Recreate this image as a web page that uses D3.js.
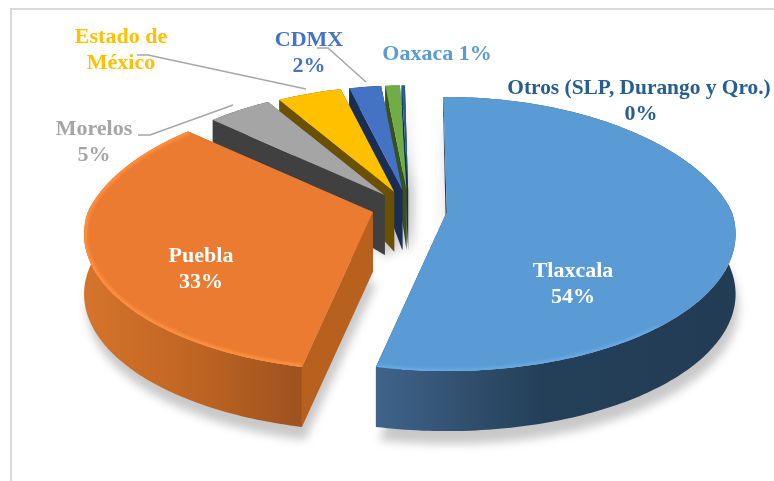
<!DOCTYPE html>
<html><head><meta charset="utf-8">
<script src="https://cdn.jsdelivr.net/npm/d3@7/dist/d3.min.js"></script>
<style>html,body{margin:0;padding:0;background:#fff}svg{display:block}text{font-family:"Liberation Serif",serif;font-weight:700;text-anchor:middle}</style>
</head><body><svg id="c" width="774" height="481"></svg>
<script>
const names=["Tlaxcala","Puebla","Morelos","Estado de México","CDMX","Oaxaca","Otros (SLP, Durango y Qro.)"];
const values=[53.6,33.3,4.6,4.75,2.4,1.1,0.25];
const topColors=["#5b9bd5","#ea7b31","#a5a5a5","#ffc000","#4472c4","#70ad47","#255e91"];
const wallColors=["#243f58","#b8611f","#404040","#6b5000","#1a2d52","#35521f","#123050"];

const W=774,H=481,svg=d3.select("#c");
const layout={cx:409,cy:212,ex:38,ey:22,R:285,Ry:133.5,k:.161,kBack:.22,shrink:.09,dMax:60,dBack:40};
const defs=svg.append("defs");
const blur=(id,s)=>defs.append("filter").attr("id",id).attr("x","-20%").attr("y","-20%").attr("width","140%").attr("height","140%").append("feGaussianBlur").attr("stdDeviation",s);
blur("sh",5);blur("hl",1.6);
const grad=(id,x1,x2,stops)=>{const g=defs.append("linearGradient").attr("id",id).attr("gradientUnits","userSpaceOnUse").attr("x1",x1).attr("x2",x2).attr("y1",0).attr("y2",0);
 stops.forEach(s=>g.append("stop").attr("offset",s[0]).attr("stop-color",s[1]));};
grad("gBlue",378,742,[[0,"#3f6389"],[.45,"#243f58"],[1,"#223c54"]]);
grad("gOrange",82,299,[[0,"#d6742c"],[.55,"#bd6422"],[1,"#9f521f"]]);

svg.append("rect").attr("x",11).attr("y",9).attr("width",W).attr("height",H).attr("fill","none").attr("stroke","#d9d9d9").attr("stroke-width",2);

const arcs=d3.pie().sort(null).startAngle(-.015).endAngle(2*Math.PI-.015)(values);
const line=d3.line();
const step=Math.PI/180;
function proj(a,t){
  const u=Math.sin(t),v=-Math.cos(t),py=1/(1-layout.k*v),px=1/(1-(v<0?layout.kBack:layout.k)*v);
  return [a.ax+layout.R*a.s*u*px,a.ay+layout.Ry*a.s*v*py];
}
function drop(a,t){const v=-Math.cos(t),q=proj(a,t);return [q[0],q[1]+layout.dMax+layout.dBack*Math.min(v,0)];}
arcs.forEach((a,i)=>{
  const mid=(a.startAngle+a.endAngle)/2;
  a.ax=layout.cx+Math.sin(mid)*layout.ex;
  a.ay=layout.cy+Math.min(0,-Math.cos(mid))*layout.ey;
  a.s=1-layout.shrink*Math.max(0,Math.cos(mid));
  a.i=i;
  const n=Math.max(2,Math.ceil((a.endAngle-a.startAngle)/step));
  a.ang=d3.range(n+1).map(j=>a.startAngle+(a.endAngle-a.startAngle)*j/n);
  a.rim=a.ang.map(t=>proj(a,t));
  a.low=a.ang.map(t=>drop(a,t));
  a.apex=[a.ax,a.ay];a.apexLow=[a.ax,a.ay+layout.dMax];
});

const gShadow=svg.append("g").attr("filter","url(#sh)").attr("opacity",.4);
arcs.forEach(a=>{
  if(a.i>1)return;
  gShadow.append("path").attr("fill","#777").attr("transform","translate(3,13)")
   .attr("d",line([a.apexLow,...a.low])+"Z");
  gShadow.append("path").attr("fill","#777").attr("transform","translate(-5,4)")
   .attr("d",line([a.apex,a.rim[0],a.low[0],a.apexLow])+"Z");
});
arcs.slice(2).forEach(a=>{
  gShadow.append("path").attr("fill","#777").attr("transform","translate(6,3)")
   .attr("d",line([a.apexLow,a.low[0],a.rim[0],a.apex])+"Z");
});

[6,5,4,3,2,1,0].forEach(i=>{
  const a=arcs[i],g=svg.append("g");
  const wc=wallColors[i];
  g.append("path").attr("fill",wc).attr("d",line([a.apex,a.rim[0],a.low[0],a.apexLow])+"Z");
  g.append("path").attr("fill",wc).attr("d",line([a.apex,a.rim[a.rim.length-1],a.low[a.low.length-1],a.apexLow])+"Z");
  const fill=i===0?"url(#gBlue)":i===1?"url(#gOrange)":wc;
  g.append("path").attr("fill",fill).attr("d",line([...a.rim,...a.low.slice().reverse()])+"Z");
  const topD=line([a.apex,...a.rim])+"Z";
  const clipId="clip"+i;
  defs.append("clipPath").attr("id",clipId).append("path").attr("d",topD);
  g.append("path").attr("fill",topColors[i]).attr("d",topD);
  if(i<2){
    const frontRim=a.rim.filter((p,j)=>{const v=-Math.cos(a.ang[j]);return i===0?v>.75:true;});
    g.append("g").attr("clip-path",`url(#${clipId})`).append("path")
      .attr("fill","none").attr("stroke",i===0?"#6aaeee":"#ff9040").attr("stroke-width",i===0?5:6)
      .attr("opacity",i===0?.8:.95).attr("filter","url(#hl)")
      .attr("d",line(frontRim));
  }
});

const leaders=[
 [[138,135],[150,135],[233,105]],
 [[137,55],[148,55],[306,89]],
 [[317,48],[328,48],[366,82]]
];
svg.append("g").selectAll("path").data(leaders).join("path").attr("fill","none").attr("stroke","#a6a6a6").attr("stroke-width",1.5).attr("d",d=>line(d));

const pct=d3.format(".0%"),total=d3.sum(values);
const share=i=>pct(values[i]/total);
const labels=[
 {t:names[0],x:573,y:277,c:"#fff"},{t:share(0),x:573,y:303,c:"#fff"},
 {t:names[1],x:201,y:262,c:"#fff"},{t:share(1),x:201,y:288,c:"#fff"},
 {t:names[2],x:94,y:135,c:topColors[2]},{t:share(2),x:94,y:161,c:topColors[2]},
 {t:"Estado de",x:121,y:43,c:topColors[3]},{t:"México",x:121,y:69,c:topColors[3]},
 {t:names[4],x:309,y:46,c:topColors[4]},{t:share(4),x:309,y:72,c:topColors[4]},
 {t:names[5]+" "+share(5),x:437,y:60,c:"#5b9bd5"},
 {t:names[6],x:639,y:94,c:topColors[6],f:21.4},{t:share(6),x:641,y:120,c:topColors[6]}
];
svg.append("g").selectAll("text").data(labels).join("text")
 .attr("x",d=>d.x).attr("y",d=>d.y).attr("fill",d=>d.c).attr("font-size",d=>d.f||22).text(d=>d.t);
</script></body></html>
